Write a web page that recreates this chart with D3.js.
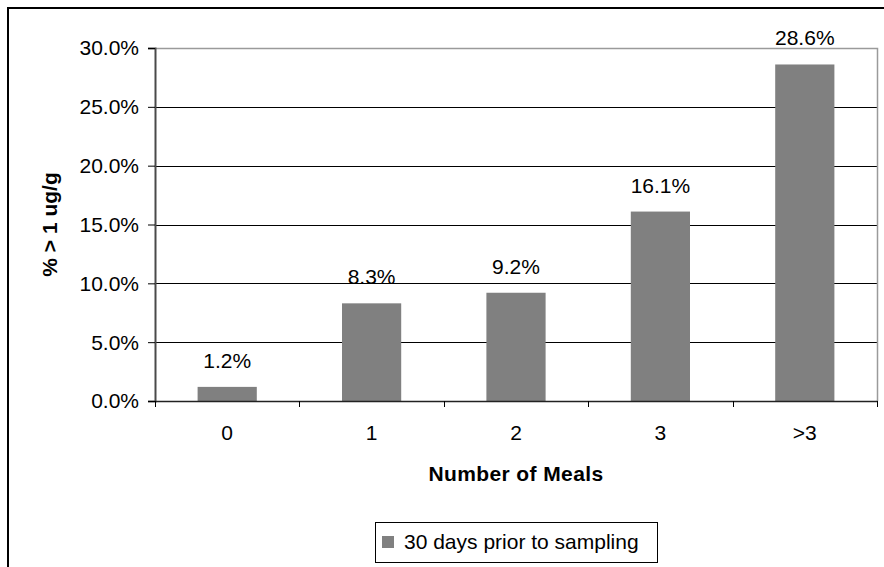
<!DOCTYPE html>
<html>
<head>
<meta charset="utf-8">
<script src="https://cdn.jsdelivr.net/npm/d3@7/dist/d3.min.js"></script>
<style>
  html, body { margin: 0; padding: 0; background: #fff; }
  svg { display: block; }
  text { font-family: "Liberation Sans", Arial, sans-serif; fill: #000; }
</style>
</head>
<body>
<svg id="chart" width="884" height="567"></svg>
<script>
// Share of samples above 1 ug/g by number of meals in the previous 30 days
const categories = ["0", "1", "2", "3", ">3"];
const values = [0.012, 0.083, 0.092, 0.161, 0.286];
const yTicks = [0, 0.05, 0.10, 0.15, 0.20, 0.25, 0.30];
const seriesName = "30 days prior to sampling";
const xTitle = "Number of Meals";
const yTitle = "% > 1 ug/g";

const svg = d3.select("#chart");
const W = 884, H = 567;
const plot = { left: 155, right: 877, top: 48, bottom: 401 };
const barColor = "#808080";
const fontSize = 21;

svg.append("rect").attr("width", W).attr("height", H).attr("fill", "#fff");

// outer chart frame (runs off the right and bottom edges)
svg.append("rect")
  .attr("x", 8).attr("y", 8)
  .attr("width", W + 20).attr("height", H + 20)
  .attr("fill", "none").attr("stroke", "#000").attr("stroke-width", 2);

const x = d3.scaleBand()
  .domain(categories)
  .range([plot.left, plot.right])
  .paddingInner(0.59)
  .paddingOuter(0.295);

const y = d3.scaleLinear()
  .domain([0, 0.30])
  .range([plot.bottom, plot.top]);

// gridlines
svg.append("g")
  .selectAll("line")
  .data(yTicks.filter(t => t > 0 && t < 0.30))
  .join("line")
  .attr("x1", plot.left).attr("x2", plot.right)
  .attr("y1", d => Math.round(y(d)) + 0.5).attr("y2", d => Math.round(y(d)) + 0.5)
  .attr("stroke", "#000").attr("stroke-width", 1);

// plot area border (top and right)
svg.append("path")
  .attr("d", `M${plot.left},${Math.round(y(0.30)) + 0.5}H${plot.right + 0.5}V${plot.bottom}`)
  .attr("fill", "none").attr("stroke", "#9a9a9a").attr("stroke-width", 1.5);

// bars
svg.append("g")
  .selectAll("rect")
  .data(values)
  .join("rect")
  .attr("x", (d, i) => x(categories[i]))
  .attr("width", x.bandwidth())
  .attr("y", d => y(d))
  .attr("height", d => y(0) - y(d))
  .attr("fill", barColor);

// value labels
const pct = d3.format(".1%");
svg.append("g")
  .selectAll("text")
  .data(values)
  .join("text")
  .attr("x", (d, i) => x(categories[i]) + x.bandwidth() / 2)
  .attr("y", d => y(d) - 19)
  .attr("text-anchor", "middle")
  .attr("font-size", fontSize)
  .text(d => pct(d));

// y axis
const yAxis = d3.axisLeft(y)
  .tickValues(yTicks)
  .tickFormat(pct)
  .tickSize(7)
  .tickPadding(9);
const gy = svg.append("g")
  .attr("transform", `translate(${plot.left},0)`)
  .call(yAxis);
gy.select(".domain").attr("stroke", "#4a4a4a").attr("stroke-width", 2);
gy.selectAll(".tick line").attr("stroke", "#000");
gy.selectAll(".tick text")
  .attr("font-size", fontSize)
  .attr("font-family", "Liberation Sans, Arial, sans-serif")
  .attr("fill", "#000")
  .attr("dy", "0.33em");

// x axis: labels at category centres, ticks at category boundaries
const xAxis = d3.axisBottom(x).tickSize(0).tickPadding(24);
const gx = svg.append("g")
  .attr("transform", `translate(0,${plot.bottom})`)
  .call(xAxis);
gx.select(".domain").attr("stroke", "#222").attr("stroke-width", 1.5);
gx.selectAll(".tick text")
  .attr("font-size", fontSize)
  .attr("font-family", "Liberation Sans, Arial, sans-serif")
  .attr("fill", "#000");

const step = x.step();
gx.append("g")
  .selectAll("line")
  .data(d3.range(categories.length + 1))
  .join("line")
  .attr("x1", i => Math.round(plot.left + i * step) + 0.5)
  .attr("x2", i => Math.round(plot.left + i * step) + 0.5)
  .attr("y1", 0).attr("y2", 6)
  .attr("stroke", "#000");

// axis titles
svg.append("text")
  .attr("x", (plot.left + plot.right) / 2)
  .attr("y", 481)
  .attr("text-anchor", "middle")
  .attr("font-size", fontSize)
  .attr("font-weight", "bold")
  .attr("letter-spacing", 0.4)
  .text(xTitle);

svg.append("text")
  .attr("transform", `translate(57,${(plot.top + plot.bottom) / 2}) rotate(-90)`)
  .attr("text-anchor", "middle")
  .attr("font-size", fontSize)
  .attr("font-weight", "bold")
  .text(yTitle);

// legend
const legend = svg.append("g").attr("transform", "translate(375,522)");
legend.append("rect")
  .attr("x", 0.5).attr("y", 0.5)
  .attr("width", 282).attr("height", 40)
  .attr("fill", "#fff").attr("stroke", "#000").attr("stroke-width", 1);
legend.append("rect")
  .attr("x", 7).attr("y", 14)
  .attr("width", 12).attr("height", 12)
  .attr("fill", barColor);
legend.append("text")
  .attr("x", 29).attr("y", 27)
  .attr("font-size", fontSize)
  .text(seriesName);
</script>
</body>
</html>
